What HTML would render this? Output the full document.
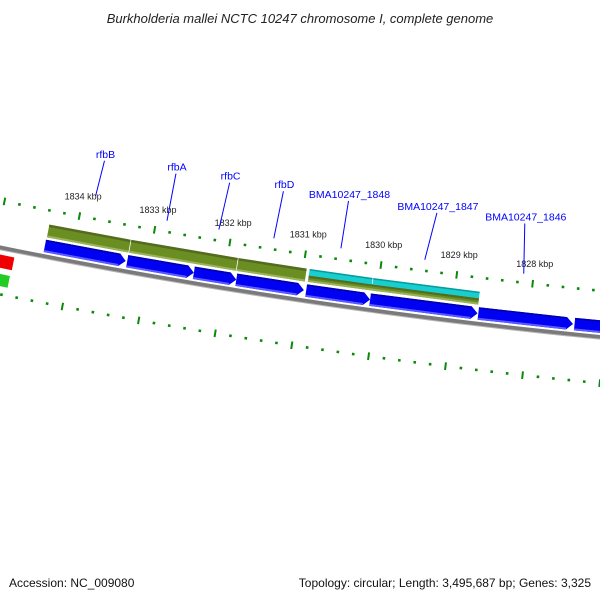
<!DOCTYPE html>
<html><head><meta charset="utf-8">
<style>
html,body{margin:0;padding:0;background:#fff;}
svg{display:block;font-family:"Liberation Sans","DejaVu Sans",sans-serif;}
</style></head>
<body>
<svg id="map" width="600" height="600" viewBox="0 0 600 600">
<rect x="0" y="0" width="600" height="600" fill="#fff"/>
<text x="300" y="23" text-anchor="middle" font-size="13" font-style="italic" fill="#222">Burkholderia mallei NCTC 10247 chromosome I, complete genome</text>
<g id="ticks"></g>
<g id="backbone"></g>
<g id="features"></g>
<g id="labels"></g>
<text x="9" y="587" font-size="12" fill="#111">Accession: NC_009080</text>
<text x="591" y="587" text-anchor="end" font-size="12" fill="#111">Topology: circular; Length: 3,495,687 bp; Genes: 3,325</text>
</svg>
<script>
// data (kbp)
const blueStarts = [1834.37, 1833.28, 1832.40, 1831.84, 1830.92, 1830.08, 1828.66, 1827.40];
const blueEnds   = [1833.30, 1832.40, 1831.84, 1830.95, 1830.08, 1828.67, 1827.42, 1826.50];
const oliveStarts = [1834.37, 1833.28, 1831.86, 1830.92];
const oliveEnds   = [1833.28, 1831.86, 1830.95, 1828.67];
const cyanStarts = [1830.92, 1830.08];
const cyanEnds   = [1830.08, 1828.67];
const geneNames = ["rfbB","rfbA","rfbC","rfbD","BMA10247_1848","BMA10247_1847","BMA10247_1846"];
const geneLinePos = [1833.84, 1832.86, 1832.17, 1831.44, 1830.55, 1829.44, 1828.13];
const geneLabelPos = [1833.81, 1832.85, 1832.13, 1831.41, 1830.54, 1829.36, 1828.19];
const geneLineBottom = [-69, -57, -57, -57, -57, -57, -55];
const tickLabels = [1834, 1833, 1832, 1831, 1830, 1829, 1828];

const NS = "http://www.w3.org/2000/svg";
const CX = 1184.7, CY = -5639, R = 6004.5;
const PHI0 = 100.69, K = 0.7345;
function pt(kbp, off) {
  const phi = (PHI0 + (kbp - 1834) * K) * Math.PI / 180;
  const r = R + off;
  return [CX + r * Math.cos(phi), CY + r * Math.sin(phi)];
}
function mk(tag, attrs, parent) {
  const e = document.createElementNS(NS, tag);
  for (const k in attrs) e.setAttribute(k, attrs[k]);
  parent.appendChild(e);
  return e;
}
function band(a, b, o1, o2, head) {
  const hl = head ? 0.085 : 0;
  const bb = b + hl;
  const p = [pt(a, o1), pt(bb, o1)];
  if (head) p.push(pt(b, (o1 + o2) / 2));
  p.push(pt(bb, o2), pt(a, o2));
  return p.map(q => q[0].toFixed(2) + "," + q[1].toFixed(2)).join(" ");
}
const gT = document.getElementById("ticks");
const gB = document.getElementById("backbone");
const gF = document.getElementById("features");
const gL = document.getElementById("labels");

// backbone
{
  const pts = [];
  for (let k = 1836; k >= 1825.5; k -= 0.25) pts.push(pt(k, 0));
  const d = pts.map((q, i) => (i ? "L" : "M") + q[0].toFixed(2) + "," + q[1].toFixed(2)).join(" ");
  const p1 = mk("path", {d: d, fill: "none", stroke: "#7a7a7a", "stroke-width": 4}, gB);
  
  
  const pts2 = [];
  for (let k = 1836; k >= 1825.5; k -= 0.25) pts2.push(pt(k, 2.2));
  const d2 = pts2.map((q, i) => (i ? "L" : "M") + q[0].toFixed(2) + "," + q[1].toFixed(2)).join(" ");
  const p2 = mk("path", {d: d2, fill: "none", stroke: "#b5b5b5", "stroke-width": 1}, gB);
  
  
}

// ticks on both rings
[-46, 46].forEach(ring => {
  for (let i = 0; i <= 50; i++) {
    const k = 1826.4 + i * 0.2;
    const major = Math.abs(k - Math.round(k)) < 0.01;
    const half = major ? 3.8 : 1.3;
    const a = pt(k, ring - half), b = pt(k, ring + half);
    const ln = mk("line", {x1: a[0], y1: a[1], x2: b[0], y2: b[1], stroke: "#0a8a0a", "stroke-width": major ? 2 : 2.6}, gT);
    
    
  }
});
tickLabels.forEach(k => {
  const p = pt(k, -66);
  const t = mk("text", {x: p[0].toFixed(1), y: (p[1] + 3).toFixed(1), "text-anchor": "middle", "font-size": 9, fill: "#222"}, gT);
  t.textContent = k + " kbp";
  
  
});

// red / green fragments at left edge
{
  const r = mk("polygon", {points: band(1836.5, 1834.73, 7, 20, false), fill: "#f00000"}, gF);
  
  
  const g = mk("polygon", {points: band(1836.5, 1834.74, 26, 38, false), fill: "#22cc22"}, gF);
  
  
}

// olive features
oliveStarts.forEach((s, i) => {
  const last = i === oliveStarts.length - 1;
  const o1 = last ? -25.5 : -32;
  const p = mk("polygon", {points: band(s - 0.005, oliveEnds[i] + 0.005, o1, -19, false), fill: "#6b8e23"}, gF);
  
  
  const top = mk("polygon", {points: band(s - 0.005, oliveEnds[i] + 0.005, o1, o1 + 2.5, false), fill: "#556b1f"}, gF);
  
  
  const bot = mk("polygon", {points: band(s - 0.005, oliveEnds[i] + 0.005, -21, -19, false), fill: "#9ab35a"}, gF);
  
  
});
// cyan features
cyanStarts.forEach((s, i) => {
  const p = mk("polygon", {points: band(s - 0.005, cyanEnds[i] + 0.005, -32, -25.5, false), fill: "#17cfcf"}, gF);
  
  
  const top = mk("polygon", {points: band(s - 0.005, cyanEnds[i] + 0.005, -32, -30.5, false), fill: "#0a9a9a"}, gF);
  
  
});
// blue arrows
blueStarts.forEach((s, i) => {
  const p = mk("polygon", {points: band(s, blueEnds[i], -16.5, -4, true), fill: "#0000f2"}, gF);
  
  
  const top = mk("polygon", {points: band(s, blueEnds[i] + 0.085, -16.5, -15, false), fill: "#0000a8"}, gF);
  
  
  const bot = mk("polygon", {points: band(s, blueEnds[i] + 0.085, -6, -4, false), fill: "#5a5aff"}, gF);
  
  
});

// gene labels
geneNames.forEach((n, i) => {
  const a = pt(geneLinePos[i], geneLineBottom[i]);
  const b = pt(geneLabelPos[i], -105);
  const ln = mk("line", {x1: a[0], y1: a[1], x2: b[0], y2: b[1], stroke: "#0000ff", "stroke-width": 1}, gL);
  
  
  const t = mk("text", {x: (b[0] + 1).toFixed(1), y: (b[1] - 3).toFixed(1), "text-anchor": "middle", "font-size": 10.5, fill: "#0000ff"}, gL);
  t.textContent = n;
  
  
});
</script>
</body></html>
